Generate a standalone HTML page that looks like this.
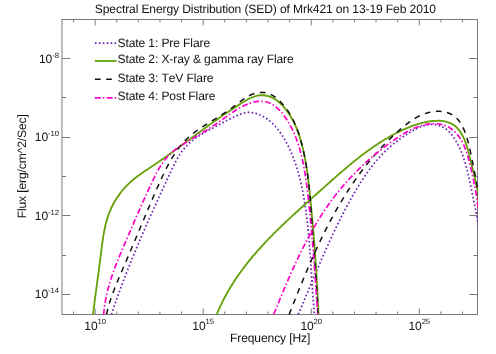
<!DOCTYPE html>
<html><head><meta charset="utf-8"><title>SED</title>
<style>
html,body{margin:0;padding:0;background:#fff;}
svg{display:block;will-change:transform;}
text{text-rendering:geometricPrecision;letter-spacing:-0.125px;font-kerning:none;font-family:"Liberation Sans",sans-serif;fill:#111;}
</style></head><body>
<svg width="496" height="354" viewBox="0 0 496 354">
<defs><clipPath id="c"><rect x="61.5" y="19.0" width="416.5" height="296.0"/></clipPath></defs>
<rect width="496" height="354" fill="#fff"/>
<rect x="62.0" y="19.5" width="415.5" height="295.0" fill="none" stroke="#7a7a7a" stroke-width="1"/>
<path d="M73.5 314.5v-2.95M73.5 19.5v2.95M95.11 314.5v-5.9M95.11 19.5v5.9M116.72 314.5v-2.95M116.72 19.5v2.95M138.33 314.5v-2.95M138.33 19.5v2.95M159.94 314.5v-2.95M159.94 19.5v2.95M181.56 314.5v-2.95M181.56 19.5v2.95M203.17 314.5v-5.9M203.17 19.5v5.9M224.78 314.5v-2.95M224.78 19.5v2.95M246.39 314.5v-2.95M246.39 19.5v2.95M268.0 314.5v-2.95M268.0 19.5v2.95M289.61 314.5v-2.95M289.61 19.5v2.95M311.22 314.5v-5.9M311.22 19.5v5.9M332.83 314.5v-2.95M332.83 19.5v2.95M354.44 314.5v-2.95M354.44 19.5v2.95M376.05 314.5v-2.95M376.05 19.5v2.95M397.67 314.5v-2.95M397.67 19.5v2.95M419.28 314.5v-5.9M419.28 19.5v5.9M440.89 314.5v-2.95M440.89 19.5v2.95M462.5 314.5v-2.95M462.5 19.5v2.95M62.0 294.5h8.3M477.5 294.5h-8.3M62.0 255.5h4.15M477.5 255.5h-4.15M62.0 215.5h8.3M477.5 215.5h-8.3M62.0 176.5h4.15M477.5 176.5h-4.15M62.0 137.5h8.3M477.5 137.5h-8.3M62.0 97.5h4.15M477.5 97.5h-4.15M62.0 58.5h8.3M477.5 58.5h-8.3" stroke="#7a7a7a" stroke-width="1" fill="none"/>
<g clip-path="url(#c)"><path d="M111.45 314.50 L112.41 311.59 L113.39 308.69 L114.38 305.80 L115.38 302.91 L116.39 300.03 L117.41 297.16 L118.44 294.29 L119.47 291.43 L120.52 288.57 L121.58 285.72 L122.65 282.88 L123.72 280.05 L124.81 277.21 L125.90 274.39 L127.00 271.57 L128.11 268.75 L129.23 265.94 L130.35 263.13 L131.49 260.33 L132.63 257.53 L133.78 254.73 L134.93 251.94 L136.09 249.15 L137.26 246.36 L138.44 243.58 L139.62 240.80 L140.81 238.02 L142.01 235.25 L143.21 232.47 L144.42 229.70 L145.63 226.93 L146.85 224.17 L148.07 221.40 L149.30 218.63 L150.53 215.87 L151.77 213.11 L153.01 210.34 L154.26 207.58 L155.51 204.82 L156.77 202.05 L158.03 199.29 L159.29 196.53 L160.55 193.76 L161.82 191.00 L163.10 188.23 L164.37 185.47 L165.65 182.70 L166.93 179.93 L168.22 177.15 L169.50 174.38 L170.79 171.60 L172.09 168.83 L173.42 166.08 L174.78 163.36 L176.19 160.68 L177.66 158.05 L179.20 155.48 L180.83 152.98 L182.56 150.57 L184.39 148.26 L186.35 146.05 L188.43 143.96 L190.64 141.98 L192.96 140.10 L195.38 138.31 L197.88 136.60 L200.45 134.96 L203.08 133.37 L205.76 131.84 L208.47 130.34 L211.19 128.88 L213.93 127.43 L216.65 125.98 L219.36 124.54 L222.04 123.10 L224.73 121.66 L227.42 120.24 L230.12 118.86 L232.86 117.51 L235.64 116.21 L238.48 114.97 L241.37 113.83 L244.30 112.93 L247.26 112.43 L250.21 112.39 L253.13 112.76 L255.99 113.46 L258.75 114.41 L261.42 115.58 L263.98 116.96 L266.44 118.52 L268.80 120.26 L271.06 122.16 L273.23 124.21 L275.31 126.40 L277.29 128.71 L279.19 131.13 L281.00 133.66 L282.72 136.26 L284.36 138.94 L285.92 141.68 L287.40 144.46 L288.81 147.28 L290.13 150.12 L291.39 152.96 L292.57 155.81 L293.69 158.67 L294.74 161.53 L295.74 164.39 L296.67 167.26 L297.55 170.13 L298.39 173.01 L299.17 175.90 L299.91 178.80 L300.61 181.70 L301.28 184.62 L301.91 187.54 L302.51 190.48 L303.08 193.42 L303.62 196.38 L304.14 199.35 L304.63 202.32 L305.10 205.30 L305.54 208.29 L305.97 211.29 L306.37 214.29 L306.75 217.31 L307.11 220.32 L307.45 223.35 L307.78 226.37 L308.09 229.41 L308.38 232.44 L308.66 235.48 L308.93 238.53 L309.19 241.57 L309.43 244.62 L309.67 247.67 L309.90 250.72 L310.12 253.78 L310.33 256.83 L310.54 259.88 L310.74 262.93 L310.94 265.98 L311.14 269.03 L311.33 272.08 L311.53 275.12 L311.72 278.16 L311.92 281.20 L312.12 284.23 L312.32 287.26 L312.53 290.28 L312.74 293.30 L312.97 296.31 L313.19 299.32 L313.43 302.32 L313.68 305.31 L313.94 308.29 L314.21 311.26 L314.49 314.23" stroke="#6a22b8" stroke-width="1.75" fill="none" stroke-dasharray="1.6 2.33"/><path d="M298.27 314.36 L299.17 312.23 L300.08 310.09 L300.98 307.95 L301.88 305.82 L302.78 303.68 L303.68 301.54 L304.57 299.41 L305.47 297.27 L306.36 295.14 L307.26 293.00 L308.15 290.86 L309.05 288.73 L309.94 286.59 L310.84 284.46 L311.74 282.33 L312.64 280.19 L313.54 278.06 L314.44 275.93 L315.34 273.80 L316.25 271.67 L317.15 269.55 L318.06 267.42 L318.98 265.30 L319.89 263.17 L320.81 261.05 L321.73 258.93 L322.66 256.82 L323.59 254.70 L324.52 252.59 L325.46 250.48 L326.41 248.37 L327.36 246.26 L328.31 244.15 L329.27 242.05 L330.23 239.95 L331.20 237.85 L332.18 235.76 L333.16 233.67 L334.15 231.58 L335.15 229.49 L336.15 227.41 L337.16 225.33 L338.18 223.25 L339.20 221.18 L340.23 219.11 L341.27 217.04 L342.32 214.98 L343.38 212.92 L344.45 210.87 L345.52 208.82 L346.61 206.77 L347.70 204.72 L348.81 202.68 L349.92 200.65 L351.05 198.62 L352.18 196.59 L353.33 194.57 L354.49 192.56 L355.66 190.56 L356.85 188.56 L358.05 186.57 L359.27 184.60 L360.50 182.64 L361.75 180.68 L363.02 178.75 L364.31 176.82 L365.61 174.91 L366.94 173.02 L368.28 171.15 L369.65 169.29 L371.03 167.45 L372.45 165.63 L373.88 163.83 L375.34 162.05 L376.82 160.30 L378.33 158.57 L379.86 156.86 L381.43 155.18 L383.02 153.52 L384.63 151.89 L386.28 150.29 L387.96 148.72 L389.67 147.18 L391.40 145.66 L393.17 144.17 L394.97 142.72 L396.79 141.29 L398.65 139.89 L400.53 138.52 L402.44 137.18 L404.38 135.87 L406.35 134.59 L408.34 133.34 L410.36 132.12 L412.41 130.92 L414.49 129.76 L416.60 128.66 L418.73 127.64 L420.88 126.71 L423.06 125.91 L425.27 125.25 L427.50 124.76 L429.76 124.46 L432.04 124.36 L434.31 124.47 L436.55 124.79 L438.74 125.32 L440.84 126.05 L442.85 127.00 L444.75 128.14 L446.54 129.46 L448.24 130.94 L449.84 132.57 L451.36 134.31 L452.78 136.16 L454.13 138.10 L455.40 140.10 L456.60 142.15 L457.73 144.23 L458.79 146.33 L459.80 148.44 L460.75 150.57 L461.64 152.72 L462.49 154.88 L463.28 157.06 L464.04 159.25 L464.75 161.45 L465.42 163.66 L466.05 165.88 L466.66 168.11 L467.23 170.35 L467.78 172.60 L468.31 174.85 L468.82 177.11 L469.31 179.37 L469.79 181.63 L470.26 183.90 L470.72 186.17 L471.18 188.43 L471.64 190.70 L472.10 192.97 L472.57 195.23 L473.04 197.49 L473.52 199.75 L474.00 202.01 L474.48 204.27 L474.96 206.52 L475.42 208.78 L475.87 211.05 L476.30 213.31 L476.71 215.58 L477.10 217.86 L477.46 220.15 L477.78 222.44 L478.07 224.74 L478.32 227.05 L478.52 229.37 L478.68 231.70 L478.79 234.05" stroke="#6a22b8" stroke-width="1.75" fill="none" stroke-dasharray="1.6 2.33"/><path d="M93.04 314.53 L93.45 311.11 L93.86 307.71 L94.28 304.33 L94.71 300.96 L95.15 297.60 L95.59 294.25 L96.03 290.92 L96.48 287.58 L96.93 284.25 L97.38 280.93 L97.83 277.60 L98.28 274.28 L98.72 270.95 L99.17 267.61 L99.60 264.27 L100.04 260.92 L100.47 257.56 L100.89 254.19 L101.30 250.80 L101.72 247.41 L102.16 244.01 L102.63 240.62 L103.14 237.23 L103.70 233.86 L104.32 230.51 L105.01 227.18 L105.78 223.88 L106.65 220.62 L107.63 217.40 L108.72 214.22 L109.94 211.09 L111.29 208.01 L112.77 205.00 L114.37 202.05 L116.10 199.16 L117.95 196.35 L119.91 193.62 L121.98 190.97 L124.17 188.41 L126.45 185.93 L128.85 183.55 L131.33 181.27 L133.92 179.09 L136.58 176.99 L139.30 174.97 L142.08 173.01 L144.90 171.08 L147.73 169.18 L150.57 167.29 L153.41 165.40 L156.23 163.49 L159.03 161.56 L161.82 159.63 L164.59 157.68 L167.35 155.72 L170.10 153.75 L172.85 151.77 L175.58 149.79 L178.31 147.80 L181.03 145.80 L183.75 143.80 L186.46 141.80 L189.17 139.80 L191.89 137.79 L194.60 135.79 L197.31 133.78 L200.03 131.78 L202.75 129.79 L205.48 127.79 L208.21 125.81 L210.96 123.83 L213.71 121.86 L216.47 119.90 L219.25 117.95 L222.04 116.01 L224.84 114.09 L227.66 112.17 L230.50 110.27 L233.36 108.39 L236.24 106.51 L239.16 104.65 L242.10 102.80 L245.08 100.99 L248.09 99.27 L251.13 97.76 L254.22 96.54 L257.34 95.70 L260.49 95.28 L263.63 95.29 L266.73 95.72 L269.77 96.58 L272.71 97.86 L275.54 99.54 L278.26 101.56 L280.84 103.87 L283.29 106.43 L285.60 109.17 L287.75 112.05 L289.75 115.02 L291.57 118.03 L293.24 121.06 L294.76 124.11 L296.14 127.18 L297.40 130.28 L298.55 133.39 L299.60 136.54 L300.56 139.70 L301.45 142.89 L302.28 146.10 L303.05 149.34 L303.78 152.60 L304.46 155.88 L305.10 159.18 L305.69 162.50 L306.25 165.83 L306.78 169.17 L307.27 172.53 L307.73 175.90 L308.17 179.28 L308.58 182.66 L308.97 186.05 L309.35 189.44 L309.71 192.84 L310.05 196.23 L310.39 199.62 L310.73 203.01 L311.05 206.40 L311.37 209.78 L311.69 213.16 L312.00 216.54 L312.31 219.91 L312.61 223.28 L312.90 226.65 L313.19 230.02 L313.47 233.39 L313.74 236.76 L314.01 240.12 L314.28 243.49 L314.54 246.85 L314.79 250.22 L315.04 253.58 L315.28 256.95 L315.52 260.31 L315.75 263.68 L315.97 267.05 L316.19 270.42 L316.41 273.79 L316.62 277.16 L316.82 280.54 L317.01 283.92 L317.21 287.30 L317.39 290.68 L317.57 294.07 L317.74 297.46 L317.91 300.85 L318.07 304.25 L318.23 307.65 L318.38 311.06 L318.53 314.47" stroke="#67a10c" stroke-width="1.85" fill="none"/><path d="M216.70 314.49 L217.71 312.06 L218.75 309.66 L219.82 307.28 L220.92 304.93 L222.04 302.59 L223.20 300.28 L224.39 297.99 L225.60 295.71 L226.84 293.46 L228.10 291.23 L229.40 289.02 L230.71 286.83 L232.06 284.65 L233.42 282.50 L234.81 280.36 L236.23 278.24 L237.66 276.13 L239.12 274.05 L240.60 271.98 L242.10 269.92 L243.63 267.89 L245.17 265.86 L246.73 263.86 L248.31 261.86 L249.91 259.88 L251.53 257.92 L253.17 255.97 L254.82 254.03 L256.49 252.10 L258.17 250.19 L259.88 248.29 L261.59 246.40 L263.32 244.52 L265.07 242.65 L266.82 240.80 L268.59 238.95 L270.38 237.11 L272.17 235.28 L273.98 233.47 L275.79 231.66 L277.62 229.85 L279.46 228.06 L281.30 226.27 L283.16 224.49 L285.02 222.72 L286.89 220.95 L288.77 219.19 L290.65 217.44 L292.54 215.69 L294.44 213.94 L296.34 212.20 L298.25 210.47 L300.15 208.73 L302.07 207.00 L303.98 205.28 L305.90 203.55 L307.82 201.83 L309.74 200.11 L311.66 198.40 L313.59 196.68 L315.51 194.96 L317.43 193.25 L319.35 191.53 L321.27 189.81 L323.19 188.10 L325.10 186.38 L327.02 184.67 L328.94 182.96 L330.85 181.25 L332.77 179.54 L334.70 177.85 L336.62 176.15 L338.55 174.46 L340.48 172.78 L342.42 171.11 L344.36 169.45 L346.31 167.79 L348.26 166.15 L350.22 164.52 L352.19 162.90 L354.17 161.29 L356.16 159.69 L358.15 158.11 L360.16 156.55 L362.18 155.00 L364.21 153.47 L366.25 151.95 L368.31 150.45 L370.37 148.98 L372.46 147.52 L374.55 146.08 L376.66 144.66 L378.79 143.27 L380.94 141.90 L383.10 140.55 L385.28 139.23 L387.48 137.93 L389.69 136.66 L391.93 135.41 L394.19 134.20 L396.46 133.01 L398.76 131.85 L401.08 130.72 L403.43 129.63 L405.79 128.57 L408.18 127.56 L410.59 126.60 L413.02 125.69 L415.47 124.84 L417.94 124.05 L420.44 123.34 L422.95 122.69 L425.49 122.13 L428.05 121.65 L430.63 121.27 L433.22 120.98 L435.81 120.81 L438.38 120.77 L440.91 120.88 L443.40 121.16 L445.82 121.62 L448.17 122.28 L450.42 123.15 L452.56 124.25 L454.57 125.60 L456.45 127.21 L458.18 129.06 L459.78 131.10 L461.23 133.29 L462.55 135.59 L463.73 137.96 L464.78 140.36 L465.72 142.80 L466.56 145.27 L467.32 147.75 L468.02 150.25 L468.67 152.76 L469.29 155.27 L469.89 157.78 L470.49 160.28 L471.10 162.77 L471.72 165.25 L472.34 167.73 L472.97 170.20 L473.59 172.66 L474.19 175.13 L474.79 177.59 L475.36 180.06 L475.90 182.54 L476.42 185.02 L476.90 187.51 L477.34 190.02 L477.73 192.54 L478.07 195.07 L478.36 197.62 L478.58 200.20 L478.74 202.80 L478.83 205.42 L478.84 208.07" stroke="#67a10c" stroke-width="1.85" fill="none"/><path d="M106.46 314.45 L107.20 311.28 L108.02 308.12 L108.91 304.97 L109.87 301.84 L110.88 298.72 L111.96 295.61 L113.08 292.51 L114.24 289.42 L115.44 286.33 L116.68 283.26 L117.94 280.20 L119.23 277.14 L120.53 274.09 L121.85 271.04 L123.17 268.00 L124.49 264.97 L125.80 261.93 L127.11 258.90 L128.40 255.88 L129.69 252.86 L130.98 249.83 L132.25 246.82 L133.53 243.80 L134.79 240.78 L136.06 237.77 L137.32 234.75 L138.58 231.74 L139.84 228.73 L141.10 225.72 L142.36 222.70 L143.63 219.69 L144.89 216.68 L146.16 213.66 L147.44 210.64 L148.72 207.62 L150.01 204.60 L151.30 201.58 L152.60 198.55 L153.92 195.53 L155.24 192.49 L156.57 189.46 L157.91 186.42 L159.27 183.38 L160.64 180.33 L162.04 177.29 L163.45 174.26 L164.90 171.24 L166.39 168.25 L167.91 165.30 L169.49 162.38 L171.12 159.50 L172.81 156.68 L174.56 153.91 L176.38 151.21 L178.28 148.58 L180.26 146.03 L182.32 143.57 L184.48 141.20 L186.74 138.92 L189.09 136.75 L191.54 134.67 L194.07 132.68 L196.67 130.75 L199.34 128.88 L202.07 127.06 L204.84 125.27 L207.65 123.51 L210.48 121.77 L213.34 120.03 L216.21 118.28 L219.08 116.52 L221.94 114.72 L224.78 112.89 L227.60 111.00 L230.38 109.05 L233.12 107.03 L235.82 104.96 L238.50 102.89 L241.18 100.87 L243.87 98.95 L246.58 97.18 L249.35 95.62 L252.18 94.30 L255.09 93.30 L258.10 92.65 L261.22 92.40 L264.43 92.60 L267.64 93.26 L270.75 94.39 L273.66 96.01 L276.39 98.00 L278.94 100.26 L281.32 102.67 L283.54 105.17 L285.62 107.76 L287.56 110.43 L289.36 113.18 L291.04 115.99 L292.59 118.87 L294.04 121.80 L295.38 124.79 L296.62 127.82 L297.77 130.90 L298.84 134.00 L299.83 137.14 L300.75 140.30 L301.62 143.48 L302.43 146.67 L303.18 149.88 L303.90 153.09 L304.56 156.30 L305.18 159.53 L305.77 162.77 L306.31 166.01 L306.82 169.26 L307.29 172.51 L307.74 175.77 L308.15 179.04 L308.53 182.31 L308.89 185.58 L309.23 188.86 L309.55 192.14 L309.85 195.43 L310.13 198.72 L310.40 202.01 L310.66 205.30 L310.90 208.59 L311.14 211.88 L311.38 215.17 L311.61 218.47 L311.85 221.76 L312.08 225.05 L312.32 228.34 L312.56 231.62 L312.80 234.91 L313.05 238.19 L313.30 241.47 L313.55 244.75 L313.80 248.04 L314.04 251.32 L314.29 254.60 L314.54 257.88 L314.78 261.16 L315.02 264.44 L315.26 267.72 L315.50 271.00 L315.73 274.28 L315.95 277.56 L316.17 280.84 L316.38 284.13 L316.59 287.41 L316.78 290.70 L316.97 293.99 L317.15 297.28 L317.32 300.57 L317.48 303.87 L317.63 307.16 L317.77 310.46 L317.90 313.77" stroke="#111111" stroke-width="1.5" fill="none" stroke-dasharray="5.7 5.55"/><path d="M289.18 314.46 L290.02 312.29 L290.87 310.12 L291.72 307.94 L292.58 305.77 L293.43 303.60 L294.29 301.42 L295.15 299.25 L296.02 297.07 L296.89 294.90 L297.76 292.72 L298.63 290.55 L299.51 288.37 L300.39 286.20 L301.28 284.03 L302.17 281.86 L303.07 279.69 L303.97 277.52 L304.87 275.36 L305.79 273.19 L306.70 271.03 L307.62 268.87 L308.55 266.71 L309.48 264.56 L310.42 262.41 L311.36 260.26 L312.32 258.11 L313.27 255.96 L314.24 253.82 L315.21 251.69 L316.19 249.55 L317.17 247.42 L318.16 245.30 L319.16 243.18 L320.17 241.06 L321.19 238.95 L322.21 236.84 L323.25 234.73 L324.29 232.64 L325.34 230.54 L326.40 228.45 L327.46 226.37 L328.54 224.29 L329.63 222.22 L330.72 220.16 L331.83 218.10 L332.94 216.04 L334.07 214.00 L335.21 211.96 L336.35 209.92 L337.51 207.89 L338.68 205.88 L339.86 203.86 L341.05 201.86 L342.25 199.86 L343.46 197.87 L344.69 195.89 L345.93 193.91 L347.18 191.95 L348.44 189.99 L349.71 188.04 L351.00 186.10 L352.30 184.17 L353.61 182.25 L354.94 180.34 L356.28 178.43 L357.63 176.54 L359.00 174.66 L360.38 172.78 L361.78 170.92 L363.19 169.06 L364.61 167.22 L366.05 165.39 L367.50 163.56 L368.97 161.75 L370.46 159.95 L371.95 158.16 L373.47 156.38 L375.00 154.62 L376.55 152.86 L378.11 151.12 L379.69 149.39 L381.28 147.67 L382.90 145.96 L384.53 144.27 L386.17 142.59 L387.84 140.92 L389.52 139.26 L391.22 137.62 L392.93 135.99 L394.67 134.38 L396.42 132.77 L398.19 131.19 L399.98 129.61 L401.79 128.06 L403.62 126.52 L405.47 125.02 L407.35 123.56 L409.25 122.15 L411.18 120.79 L413.14 119.49 L415.13 118.26 L417.16 117.11 L419.21 116.04 L421.31 115.06 L423.44 114.18 L425.61 113.40 L427.82 112.74 L430.08 112.19 L432.37 111.78 L434.69 111.50 L437.01 111.35 L439.33 111.36 L441.63 111.51 L443.88 111.83 L446.09 112.31 L448.24 112.96 L450.30 113.80 L452.26 114.81 L454.12 116.02 L455.84 117.43 L457.44 119.02 L458.92 120.79 L460.28 122.70 L461.53 124.73 L462.68 126.87 L463.73 129.09 L464.70 131.37 L465.58 133.69 L466.39 136.02 L467.12 138.35 L467.80 140.67 L468.42 142.97 L469.00 145.26 L469.53 147.54 L470.04 149.81 L470.52 152.08 L470.98 154.34 L471.43 156.60 L471.88 158.86 L472.33 161.13 L472.79 163.39 L473.25 165.67 L473.72 167.94 L474.18 170.22 L474.64 172.51 L475.09 174.79 L475.53 177.09 L475.96 179.39 L476.37 181.69 L476.76 184.00 L477.13 186.31 L477.48 188.63 L477.80 190.95 L478.08 193.28 L478.34 195.62 L478.55 197.96 L478.73 200.31 L478.87 202.66 L478.96 205.02" stroke="#111111" stroke-width="1.5" fill="none" stroke-dasharray="5.7 5.55"/><path d="M103.71 314.58 L103.98 311.31 L104.33 308.06 L104.76 304.83 L105.27 301.63 L105.86 298.45 L106.51 295.28 L107.23 292.14 L108.01 289.02 L108.86 285.91 L109.75 282.82 L110.70 279.75 L111.70 276.69 L112.74 273.64 L113.82 270.61 L114.93 267.59 L116.08 264.58 L117.26 261.57 L118.47 258.58 L119.70 255.59 L120.95 252.61 L122.21 249.63 L123.48 246.66 L124.76 243.69 L126.05 240.73 L127.33 237.76 L128.62 234.80 L129.90 231.83 L131.18 228.87 L132.46 225.91 L133.74 222.95 L135.02 219.98 L136.30 217.03 L137.59 214.07 L138.88 211.11 L140.18 208.16 L141.48 205.20 L142.79 202.25 L144.11 199.30 L145.44 196.36 L146.78 193.41 L148.13 190.47 L149.49 187.54 L150.87 184.60 L152.26 181.67 L153.66 178.75 L155.10 175.84 L156.57 172.96 L158.11 170.11 L159.72 167.33 L161.43 164.61 L163.24 161.98 L165.17 159.44 L167.24 157.02 L169.46 154.71 L171.83 152.52 L174.32 150.44 L176.91 148.46 L179.58 146.57 L182.32 144.75 L185.09 142.99 L187.88 141.29 L190.67 139.63 L193.43 138.00 L196.16 136.38 L198.87 134.78 L201.56 133.17 L204.24 131.56 L206.91 129.92 L209.58 128.24 L212.25 126.52 L214.93 124.75 L217.62 122.91 L220.33 121.00 L223.06 119.04 L225.81 117.07 L228.59 115.09 L231.38 113.15 L234.20 111.27 L237.05 109.47 L239.92 107.78 L242.82 106.23 L245.74 104.85 L248.69 103.65 L251.67 102.67 L254.68 101.94 L257.72 101.47 L260.76 101.31 L263.77 101.48 L266.72 102.02 L269.55 102.97 L272.27 104.31 L274.86 106.01 L277.32 108.02 L279.66 110.29 L281.88 112.78 L283.97 115.44 L285.93 118.23 L287.76 121.09 L289.47 123.99 L291.05 126.90 L292.52 129.83 L293.89 132.78 L295.15 135.75 L296.31 138.74 L297.40 141.74 L298.40 144.77 L299.33 147.81 L300.20 150.87 L301.02 153.96 L301.78 157.06 L302.49 160.19 L303.16 163.32 L303.78 166.48 L304.36 169.64 L304.91 172.82 L305.42 176.01 L305.90 179.21 L306.35 182.42 L306.78 185.63 L307.19 188.85 L307.58 192.07 L307.95 195.30 L308.31 198.52 L308.66 201.74 L309.01 204.97 L309.35 208.19 L309.68 211.41 L310.00 214.63 L310.31 217.84 L310.62 221.06 L310.93 224.28 L311.22 227.49 L311.51 230.71 L311.80 233.92 L312.08 237.13 L312.36 240.35 L312.63 243.56 L312.89 246.77 L313.15 249.99 L313.41 253.20 L313.66 256.41 L313.91 259.63 L314.15 262.84 L314.40 266.06 L314.64 269.27 L314.87 272.49 L315.10 275.71 L315.33 278.93 L315.56 282.15 L315.79 285.37 L316.01 288.59 L316.23 291.81 L316.46 295.04 L316.68 298.26 L316.89 301.49 L317.11 304.72 L317.33 307.96 L317.55 311.19 L317.76 314.43" stroke="#ff00c8" stroke-width="1.7" fill="none" stroke-dasharray="5.8 2.2 1.5 2.4"/><path d="M273.68 314.26 L274.55 312.16 L275.42 310.06 L276.29 307.96 L277.17 305.86 L278.04 303.75 L278.92 301.64 L279.80 299.52 L280.68 297.41 L281.57 295.29 L282.46 293.17 L283.35 291.05 L284.25 288.93 L285.15 286.81 L286.05 284.69 L286.96 282.57 L287.88 280.45 L288.80 278.34 L289.72 276.22 L290.65 274.10 L291.59 271.99 L292.54 269.88 L293.49 267.77 L294.45 265.67 L295.41 263.56 L296.39 261.46 L297.37 259.37 L298.36 257.28 L299.36 255.19 L300.37 253.11 L301.38 251.03 L302.41 248.95 L303.45 246.89 L304.50 244.83 L305.55 242.77 L306.62 240.72 L307.70 238.68 L308.79 236.64 L309.90 234.62 L311.01 232.60 L312.14 230.58 L313.28 228.58 L314.43 226.59 L315.60 224.60 L316.78 222.62 L317.97 220.65 L319.18 218.70 L320.40 216.75 L321.63 214.81 L322.89 212.88 L324.15 210.97 L325.44 209.06 L326.73 207.17 L328.05 205.29 L329.38 203.42 L330.73 201.57 L332.09 199.72 L333.47 197.89 L334.86 196.07 L336.27 194.26 L337.70 192.47 L339.14 190.68 L340.60 188.91 L342.07 187.15 L343.56 185.41 L345.06 183.68 L346.58 181.96 L348.12 180.25 L349.67 178.55 L351.23 176.87 L352.81 175.20 L354.40 173.55 L356.01 171.91 L357.64 170.28 L359.28 168.66 L360.93 167.06 L362.60 165.47 L364.28 163.90 L365.98 162.34 L367.69 160.79 L369.42 159.26 L371.16 157.74 L372.91 156.23 L374.68 154.74 L376.47 153.26 L378.26 151.80 L380.07 150.35 L381.90 148.91 L383.74 147.49 L385.59 146.09 L387.46 144.69 L389.34 143.32 L391.23 141.95 L393.14 140.60 L395.06 139.27 L397.00 137.95 L398.95 136.66 L400.91 135.39 L402.89 134.15 L404.89 132.96 L406.91 131.81 L408.94 130.70 L411.00 129.66 L413.07 128.68 L415.17 127.77 L417.29 126.93 L419.43 126.17 L421.60 125.49 L423.79 124.91 L426.01 124.43 L428.25 124.05 L430.53 123.78 L432.82 123.62 L435.11 123.60 L437.39 123.73 L439.65 124.01 L441.86 124.46 L444.01 125.09 L446.10 125.89 L448.11 126.87 L450.04 128.00 L451.87 129.27 L453.61 130.66 L455.23 132.18 L456.75 133.81 L458.16 135.54 L459.49 137.36 L460.72 139.27 L461.87 141.25 L462.93 143.31 L463.93 145.43 L464.85 147.60 L465.71 149.82 L466.51 152.08 L467.26 154.37 L467.96 156.68 L468.62 159.01 L469.24 161.34 L469.82 163.68 L470.38 166.01 L470.92 168.32 L471.44 170.60 L471.94 172.86 L472.43 175.09 L472.91 177.30 L473.38 179.49 L473.84 181.67 L474.28 183.84 L474.70 186.01 L475.12 188.19 L475.51 190.37 L475.90 192.56 L476.27 194.77 L476.62 197.01 L476.96 199.26 L477.28 201.56 L477.59 203.88 L477.88 206.25 L478.16 208.67 L478.42 211.13" stroke="#ff00c8" stroke-width="1.7" fill="none" stroke-dasharray="5.8 2.2 1.5 2.4"/></g>
<path d="M94.9 43.0H116.5" stroke="#6a22b8" stroke-width="1.75" fill="none" stroke-dasharray="1.6 2.33"/>
<text x="117.5" y="46.85" font-size="12.1">State 1: Pre Flare</text>
<path d="M94.9 61.0H116.5" stroke="#67a10c" stroke-width="1.85" fill="none"/>
<text x="117.5" y="62.65" font-size="12.1">State 2: X-ray &amp; gamma ray Flare</text>
<path d="M94.9 79.3H116.5" stroke="#111111" stroke-width="1.5" fill="none" stroke-dasharray="5.7 5.55"/>
<text x="117.5" y="81.9" font-size="12.1">State 3: TeV Flare</text>
<path d="M94.9 97.8H116.5" stroke="#ff00c8" stroke-width="1.7" fill="none" stroke-dasharray="5.8 2.2 1.5 2.4"/>
<text x="117.5" y="100.1" font-size="12.1">State 4: Post Flare</text>
<text x="265.4" y="12.5" font-size="12.1" text-anchor="middle">Spectral Energy Distribution (SED) of Mrk421 on 13-19 Feb 2010</text>
<text x="270.1" y="342.3" font-size="12.1" text-anchor="middle">Frequency [Hz]</text>
<text transform="translate(25.9,166.3) rotate(-90)" font-size="12.1" text-anchor="middle">Flux [erg/cm^2/Sec]</text>
<text x="84.31" y="330" font-size="12.1">10<tspan dy="-6" font-size="7.7">10</tspan></text>
<text x="192.37" y="330" font-size="12.1">10<tspan dy="-6" font-size="7.7">15</tspan></text>
<text x="300.42" y="330" font-size="12.1">10<tspan dy="-6" font-size="7.7">20</tspan></text>
<text x="408.48" y="330" font-size="12.1">10<tspan dy="-6" font-size="7.7">25</tspan></text>
<text x="58.8" y="63.00" font-size="12.1" text-anchor="end">10<tspan dy="-5" font-size="7.7">-8</tspan></text>
<text x="58.8" y="141.00" font-size="12.1" text-anchor="end">10<tspan dy="-5" font-size="7.7">-10</tspan></text>
<text x="58.8" y="220.00" font-size="12.1" text-anchor="end">10<tspan dy="-5" font-size="7.7">-12</tspan></text>
<text x="58.8" y="298.00" font-size="12.1" text-anchor="end">10<tspan dy="-5" font-size="7.7">-14</tspan></text>
</svg>
</body></html>
